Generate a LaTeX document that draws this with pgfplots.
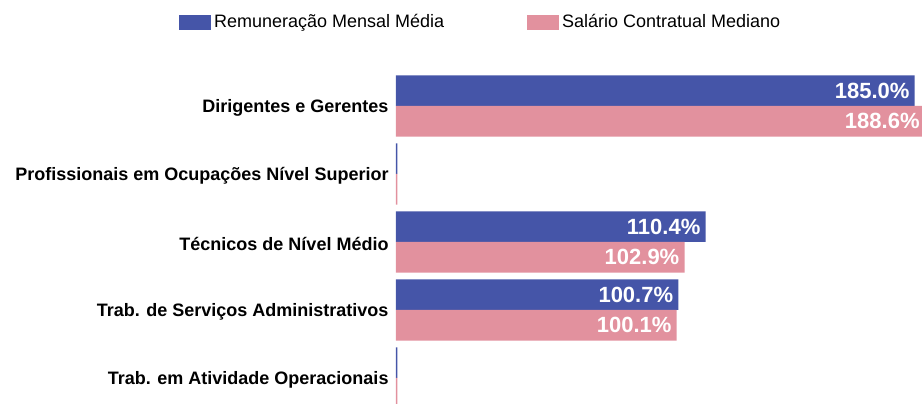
\documentclass[border=0pt]{standalone}
\usepackage{pgfplots}
\pgfplotsset{compat=1.18}
\usepackage{fontspec}
\setmainfont{Liberation Sans}
\definecolor{cblue}{HTML}{4555A8}
\definecolor{cpink}{HTML}{E2919E}
\begin{document}
\begin{tikzpicture}[x=1pt,y=1pt]
\path[use as bounding box] (0,0) rectangle (922,404);
\begin{axis}[
  at={(396pt,332pt)}, anchor=north west,
  scale only axis, width=528.8pt, height=340pt,
  xmin=0, xmax=188.6,
  ymin=-0.5, ymax=4.5, y dir=reverse,
  enlargelimits=false,
  xbar, bar width=0.45,
  axis line style={draw=none},
  tick style={draw=none},
  xtick=\empty,
  ytick={0,1,2,3,4},
  yticklabels={Dirigentes e Gerentes, Profissionais em Ocupações Nível Superior, Técnicos de Nível Médio, Trab. de Serviços Administrativos, Trab. em Atividade Operacionais},
  yticklabel style={font=\bfseries\fontsize{18}{20}\selectfont, inner sep=0pt, xshift=-3pt, yshift=-2pt},
  legend columns=2,
  legend style={at={(0.161,1.147)}, anchor=center, draw=none, fill=none,
    font=\fontsize{18}{20}\selectfont,
    /tikz/every even column/.append style={column sep=80pt},
    nodes={inner xsep=3pt, inner ysep=0pt}},
  legend image code/.code={\fill[#1] (0pt,-7.5pt) rectangle (32pt,7.5pt);},
  nodes near coords={\pgfmathprintnumber[fixed,fixed zerofill,precision=1,assume math mode=true]{\pgfplotspointmeta}\%},
  nodes near coords style={anchor=east, text=white, inner xsep=5pt, font=\bfseries\fontsize{22}{24}\selectfont},
]
\addplot[fill=cblue, draw=none, bar shift=-0.225] coordinates {(185.0,0) (110.4,2) (100.7,3)};
\addplot[fill=cpink, draw=none, bar shift=0.225] coordinates {(188.6,0) (102.9,2) (100.1,3)};
\addplot[forget plot, fill=cblue, draw=none, bar shift=-0.225, nodes near coords={}] coordinates {(0.5,1) (0.5,4)};
\addplot[forget plot, fill=cpink, draw=none, bar shift=0.225, nodes near coords={}] coordinates {(0.5,1) (0.5,4)};
\legend{Remuneração Mensal Média, Salário Contratual Mediano}
\end{axis}
\end{tikzpicture}
\end{document}
